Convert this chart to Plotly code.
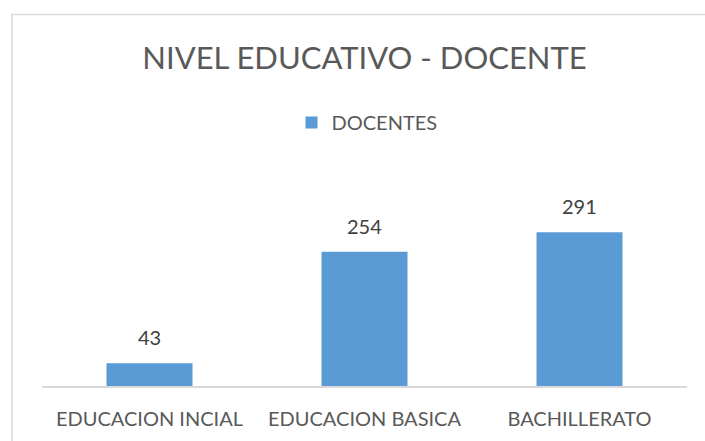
import plotly.graph_objects as go

categories = ["EDUCACION INCIAL", "EDUCACION BASICA", "BACHILLERATO"]
docentes = [43, 254, 291]
series_name = "DOCENTES"
title_text = "NIVEL EDUCATIVO - DOCENTE"

W, H = 705, 441
L, R, T, B = 42, 687, 201, 386.5
FONT = "Lato"
TXT = "#595959"
BAR = "#5b9bd5"

fig = go.Figure()
fig.add_trace(go.Bar(
    x=categories, y=docentes, name=series_name,
    marker=dict(color=BAR, line=dict(width=0)),
    width=0.4, showlegend=True,
))

for c, v in zip(categories, docentes):
    fig.add_annotation(x=c, y=v, text=str(v), showarrow=False,
                       yanchor="bottom", yshift=12,
                       font=dict(family=FONT, size=20, color="#404040"))

pw, ph = R - L, B - T
fig.add_shape(type="rect", xref="paper", yref="paper",
              x0=(12 - L) / pw, x1=(W + 20 - L) / pw,
              y0=(B - (H + 20)) / ph, y1=(B - 14) / ph,
              line=dict(color="#d9d9d9", width=1.5), fillcolor="rgba(0,0,0,0)", layer="below")

fig.update_layout(
    width=W, height=H,
    margin=dict(l=L, r=W - R, t=T, b=H - B, pad=0),
    paper_bgcolor="white", plot_bgcolor="white",
    title=dict(text=title_text, x=0.5, xref="paper", xanchor="center",
               y=1 - 58 / H, yref="container", yanchor="middle",
               font=dict(family=FONT, size=31, color=TXT)),
    legend=dict(orientation="h", x=(369 - 2 - L) / pw, xanchor="center",
                y=1 - 122.5 / H, yref="container", yanchor="middle",
                font=dict(family=FONT, size=20, color=TXT),
                itemwidth=30, bgcolor="rgba(0,0,0,0)"),
    bargap=0.6,
    xaxis=dict(showline=True, linecolor="#d9d9d9", linewidth=2, ticks="",
               showgrid=False, tickfont=dict(family=FONT, size=20, color=TXT),
               ticklabelstandoff=14),
    yaxis=dict(range=[0, 350], visible=False, showgrid=False, zeroline=False),
    font=dict(family=FONT, color=TXT),
)

fig.write_html(
    "out.html",
    config={"displayModeBar": False},
    post_script="document.body.style.margin='0';document.body.style.overflow='hidden';",
)
